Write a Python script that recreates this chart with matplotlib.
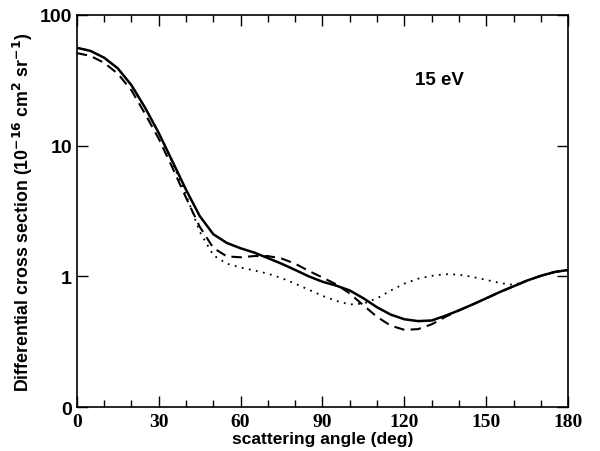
import numpy as np
import matplotlib
matplotlib.use('Agg')
import matplotlib.pyplot as plt
from matplotlib.ticker import FixedLocator, MultipleLocator, NullLocator

# scattering angle grid (deg)
angle = np.arange(0, 181, 5)

# DCS curves (1e-16 cm^2 sr^-1)
dcs_solid = [56, 53, 47, 39, 29, 19.5, 12.5, 7.6, 4.6, 2.9, 2.1, 1.8, 1.64,
             1.52, 1.38, 1.25, 1.12, 1.0, 0.91, 0.85, 0.78, 0.68, 0.58, 0.51,
             0.47, 0.455, 0.46, 0.5, 0.55, 0.61, 0.68, 0.76, 0.84, 0.93,
             1.01, 1.08, 1.12]
dcs_dashed = [51, 48.5, 43, 35.5, 26.5, 17.5, 11.3, 6.8, 4.0, 2.4, 1.65, 1.42,
              1.40, 1.43, 1.43, 1.37, 1.25, 1.1, 0.98, 0.87, 0.74, 0.6, 0.49,
              0.42, 0.39, 0.395, 0.43, 0.49, 0.55, 0.61, 0.68, 0.76, 0.84,
              0.93, 1.01, 1.08, 1.12]
dcs_dotted = [56, 53, 47, 39, 29, 19.5, 12.5, 7.4, 4.2, 2.2, 1.45, 1.25, 1.17,
              1.11, 1.05, 0.97, 0.88, 0.79, 0.71, 0.65, 0.61, 0.62, 0.68, 0.78,
              0.88, 0.96, 1.01, 1.04, 1.03, 0.99, 0.94, 0.89, 0.86, 0.93,
              1.01, 1.08, 1.12]

xticks = [0, 30, 60, 90, 120, 150, 180]
yticks = [0.1, 1, 10, 100]
ytick_labels = ['0', '1', '10', '100']

fig = plt.figure(figsize=(6.0, 4.52), dpi=100)
ax = fig.add_axes([0.128, 0.097, 0.819, 0.868])

ax.plot(angle, dcs_solid, color='black', lw=1.8, ls='-')
ax.plot(angle, dcs_dashed, color='black', lw=1.5, ls=(0, (5, 3)))
ax.plot(angle, dcs_dotted, color='black', lw=1.3, ls=(0, (1, 3)))

ax.set_yscale('log')
ax.set_xlim(0, 180)
ax.set_ylim(0.1, 100)

ax.xaxis.set_major_locator(FixedLocator(xticks))
ax.xaxis.set_minor_locator(MultipleLocator(10))
ax.yaxis.set_major_locator(FixedLocator(yticks))
ax.yaxis.set_minor_locator(NullLocator())
ax.set_yticklabels(ytick_labels)
ax.set_xticklabels([str(t) for t in xticks])

ax.tick_params(which='both', direction='in', top=True, right=True, width=1.0)
ax.tick_params(which='major', length=8)
ax.tick_params(which='minor', length=5)
ax.tick_params(axis='x', pad=4)

for lab in ax.get_xticklabels():
    lab.set_fontfamily('Liberation Serif')
    lab.set_fontweight('bold')
    lab.set_fontsize(14)
for lab in ax.get_yticklabels():
    lab.set_fontfamily('Liberation Sans')
    lab.set_fontweight('bold')
    lab.set_fontsize(14)

for sp in ax.spines.values():
    sp.set_linewidth(1.2)

ax.set_xlabel('scattering angle (deg)', fontsize=12.5, fontweight='bold',
              family='Liberation Sans', labelpad=1)
ax.set_ylabel(r'Differential cross section (10$^{\mathbf{-16}}$ cm$^{\mathbf{2}}$ sr$^{\mathbf{-1}}$)',
              fontsize=12.8, fontweight='bold', family='Liberation Sans', labelpad=3)

ax.text(133, 32, '15 eV', fontsize=13.5, fontweight='bold',
        family='Liberation Sans', ha='center', va='center')

plt.savefig('out.png', dpi=100, facecolor='white')
